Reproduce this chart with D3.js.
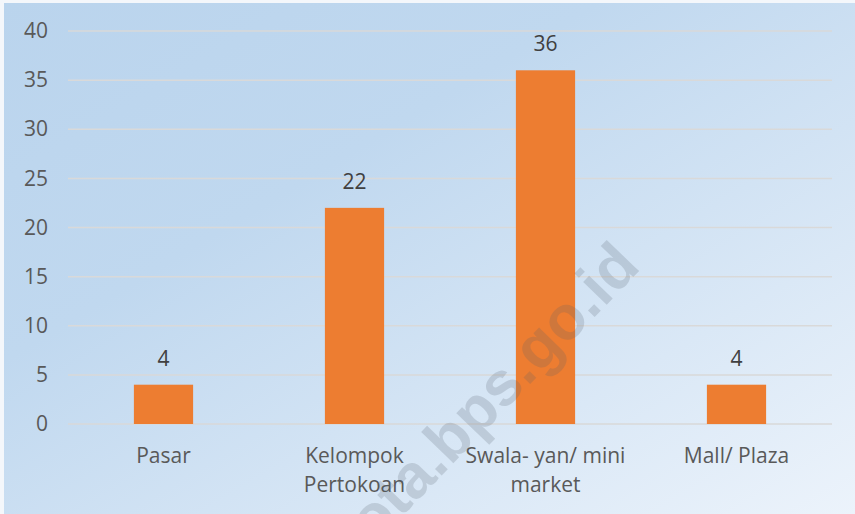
<!DOCTYPE html>
<html>
<head>
<meta charset="utf-8">
<script src="https://cdn.jsdelivr.net/npm/d3@7"></script>
<style>
  body { margin: 0; background: #f4f7fb; }
  svg { display: block; }
</style>
</head>
<body>
<script>
// chart data
const categories = [["Pasar"], ["Kelompok", "Pertokoan"], ["Swala- yan/ mini", "market"], ["Mall/ Plaza"]];
const values = [4, 22, 36, 4];
const yTicks = [0, 5, 10, 15, 20, 25, 30, 35, 40];

const W = 855, H = 514;
const margin = { top: 31, right: 23, bottom: 90, left: 68 };
const width = W - margin.left - margin.right;
const height = H - margin.top - margin.bottom;

const svg = d3.select('body').append('svg')
  .attr('width', W)
  .attr('height', H);

// background gradient
const defs = svg.append('defs');
const grad = defs.append('linearGradient')
  .attr('id', 'bg')
  .attr('x1', '0%').attr('y1', '0%')
  .attr('x2', '100%').attr('y2', '100%');
grad.append('stop').attr('offset', '0%').attr('stop-color', '#bad4ed');
grad.append('stop').attr('offset', '35%').attr('stop-color', '#c0d8ef');
grad.append('stop').attr('offset', '100%').attr('stop-color', '#ecf3fb');

svg.append('rect')
  .attr('x', 4).attr('y', 3)
  .attr('width', W - 4).attr('height', H - 3)
  .attr('fill', 'url(#bg)');

const g = svg.append('g')
  .attr('transform', `translate(${margin.left},${margin.top})`);

const x = d3.scaleBand()
  .domain(d3.range(categories.length))
  .range([0, width])
  .paddingInner(0.69)
  .paddingOuter(0.345);

const y = d3.scaleLinear()
  .domain([0, 40])
  .range([height, 0]);

// gridlines
g.append('g')
  .selectAll('line')
  .data(yTicks)
  .join('line')
  .attr('x1', 0).attr('x2', width)
  .attr('y1', d => y(d)).attr('y2', d => y(d))
  .attr('stroke', '#d9d9d9')
  .attr('stroke-width', 1.5);

// y axis labels
const yAxis = g.append('g')
  .call(d3.axisLeft(y).tickValues(yTicks).tickSize(0).tickPadding(20));
yAxis.select('.domain').remove();
yAxis.selectAll('text')
  .style('font-family', '"Open Sans", sans-serif')
  .style('font-size', '21px')
  .attr('fill', '#595959');

// bars
g.selectAll('.bar')
  .data(values)
  .join('rect')
  .attr('class', 'bar')
  .attr('x', (d, i) => x(i))
  .attr('y', d => y(d))
  .attr('width', x.bandwidth())
  .attr('height', d => height - y(d))
  .attr('fill', '#ed7d31');

// value labels
g.selectAll('.val')
  .data(values)
  .join('text')
  .attr('class', 'val')
  .attr('x', (d, i) => x(i) + x.bandwidth() / 2)
  .attr('y', d => y(d) - 19)
  .attr('text-anchor', 'middle')
  .style('font-family', '"Open Sans", sans-serif')
  .style('font-size', '21px')
  .attr('fill', '#404040')
  .text(d => d);

// category labels
const cat = g.selectAll('.cat')
  .data(categories)
  .join('text')
  .attr('class', 'cat')
  .attr('x', (d, i) => x(i) + x.bandwidth() / 2)
  .attr('y', height + 39)
  .attr('text-anchor', 'middle')
  .style('font-family', '"Open Sans", sans-serif')
  .style('font-size', '21px')
  .attr('fill', '#595959');
cat.selectAll('tspan')
  .data(d => d)
  .join('tspan')
  .attr('x', function() { return d3.select(this.parentNode).attr('x'); })
  .attr('dy', (d, i) => i === 0 ? 0 : 29)
  .text(d => d);

// watermark
svg.append('text')
  .attr('transform', 'translate(642,268) rotate(-46)')
  .attr('text-anchor', 'end')
  .style('font-family', '"Liberation Sans", Arial, sans-serif')
  .style('font-weight', 'bold')
  .style('font-size', '62px')
  .attr('fill', '#55606c')
  .attr('opacity', 0.2)
  .text('kota.bps.go.id');
</script>
</body>
</html>
